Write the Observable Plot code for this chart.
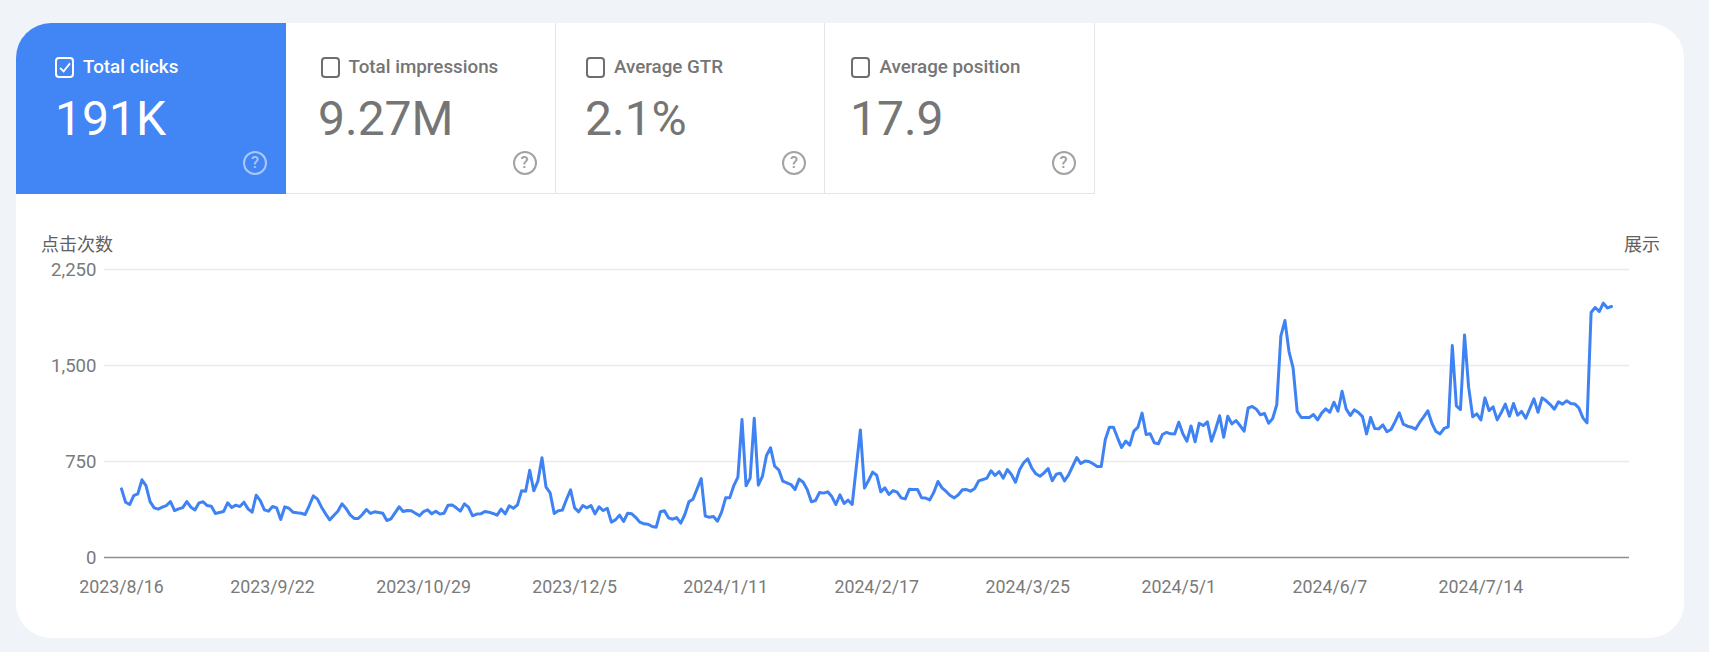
<!DOCTYPE html>
<html lang="zh">
<head>
<meta charset="utf-8">
<script src="https://cdn.jsdelivr.net/npm/d3@7"></script>
<script src="https://cdn.jsdelivr.net/npm/@observablehq/plot@0.6"></script>
<style>
html,body{margin:0;padding:0;width:1709px;height:652px;overflow:hidden;background:#f0f4f9;font-family:Roboto,sans-serif;}
#card{position:absolute;left:16px;top:23px;width:1668px;height:615px;background:#fff;border-radius:35px;overflow:hidden;}
.tile{position:absolute;top:0;height:171px;width:269.5px;box-sizing:border-box;border-right:1.2px solid #e4e5e8;border-bottom:1.2px solid #e4e5e8;color:#757575;}
.tile.on{background:#4285f4;color:#fff;border-color:#4285f4;width:270px;}
.box{position:absolute;top:34px;width:19px;height:21px;box-sizing:border-box;border:2px solid #6e6e6e;border-radius:4px;}
.on .box{border-color:#fff;}
.box svg{position:absolute;left:1.5px;top:2px;}
.lab{position:absolute;top:31px;font-size:18.8px;font-weight:500;line-height:26px;white-space:nowrap;}
.val{position:absolute;top:66px;font-size:48px;line-height:60px;white-space:nowrap;}
.help{position:absolute;top:128px;width:24px;height:24px;box-sizing:border-box;border:2px solid #a3a3a3;border-radius:50%;color:#9e9e9e;font-size:16.5px;font-weight:500;line-height:20px;text-align:center;}
.on .help{border-color:#a9c8fa;color:#a9c8fa;}
.axt{position:absolute;top:231px;font-family:"Noto Sans CJK SC",sans-serif;font-size:18px;line-height:24px;color:#616161;white-space:nowrap;}
#chart{position:absolute;left:0;top:200px;}
#chart svg{background:transparent;overflow:visible;}
</style>
</head>
<body>
<div id="card"></div>
<div class="axt" style="left:41px">点击次数</div>
<div class="axt" style="left:1624px">展示</div>
<div id="chart"></div>
<script>
const metricNames = ["Total clicks", "Total impressions", "Average GTR", "Average position"];
const metricValues = ["191K", "9.27M", "2.1%", "17.9"];
const startDate = "2023-08-16";
const clicks = [
536,432,414,484,497,607,562,437,388,378,393,406,437,367,380,390,437,393,372,427,
435,406,401,344,352,359,427,390,409,398,432,380,354,487,445,372,362,398,388,297,
396,385,354,349,346,336,406,482,456,393,341,294,328,362,419,383,333,305,305,336,
375,344,357,352,346,289,302,349,396,359,367,365,346,326,359,372,341,362,339,346,
409,411,388,362,419,393,326,339,341,359,354,344,331,378,341,404,385,411,521,518,
682,521,596,779,549,505,344,365,370,453,529,388,357,406,388,406,341,396,367,385,
276,294,331,281,346,341,312,276,263,260,242,237,357,365,310,299,312,268,336,435,
456,536,617,323,315,320,284,354,466,466,562,628,1078,560,620,1088,565,633,797,857,
713,685,596,583,570,531,612,588,529,435,445,508,503,513,476,414,490,422,448,414,
706,997,542,601,667,643,513,544,492,523,510,466,458,534,531,531,466,464,450,510,
594,544,516,484,466,490,529,531,518,539,599,609,620,677,641,672,620,687,648,588,
685,740,771,698,654,635,661,695,599,651,659,599,646,713,781,734,753,750,732,711,
711,922,1018,1018,935,859,909,878,987,1018,1128,961,966,896,888,961,977,966,964,1057,
966,909,1028,904,1049,1031,1060,909,1000,1107,940,1104,1044,1070,1031,987,1169,1180,1159,1115,
1125,1049,1086,1193,1729,1851,1609,1482,1141,1094,1094,1094,1117,1075,1128,1161,1135,1213,1143,1299,
1161,1109,1154,1133,1101,966,1094,1008,1005,1036,982,1000,1062,1130,1042,1026,1018,1003,1055,1099,
1146,1049,984,966,1008,1021,1656,1185,1156,1739,1331,1099,1122,1075,1247,1148,1177,1075,1133,1198,
1104,1203,1112,1141,1088,1164,1239,1135,1247,1224,1195,1159,1216,1198,1224,1203,1200,1169,1091,1052,
1914,1953,1922,1987,1950,1961
];
const yTicks = [0, 750, 1500, 2250];
const xTickLabels = ["2023/8/16","2023/9/22","2023/10/29","2023/12/5","2024/1/11","2024/2/17","2024/3/25","2024/5/1","2024/6/7","2024/7/14"];

const parse = s => { const [y,m,d] = s.split("/").map(Number); return new Date(Date.UTC(y, m-1, d)); };
const fmt = d => `${d.getUTCFullYear()}/${d.getUTCMonth()+1}/${d.getUTCDate()}`;
const t0 = new Date(startDate + "T00:00:00Z");
const table = clicks.map((v,i) => ({date: d3.utcDay.offset(t0, i), clicks: v}));

// metric tiles
const lefts = [0, 270, 539.5, 809];
const boxX = [39, 305, 570, 835];
const labX = [67, 332.5, 598, 863.5];
const valX = [39, 302, 569, 834];
const helpX = [227, 496.5, 766, 1035.5];
const card = document.getElementById("card");
metricNames.forEach((name,i) => {
  const t = document.createElement("div");
  t.className = "tile" + (i===0 ? " on" : "");
  t.style.left = lefts[i] + "px";
  const L = lefts[i];
  const check = i===0 ? '<svg width="12" height="13" viewBox="0 0 12 13"><path d="M1 6.8L4.6 10.4L11 2.4" fill="none" stroke="#fff" stroke-width="1.8"/></svg>' : "";
  t.innerHTML = `<div class="box" style="left:${boxX[i]-L}px">${check}</div>`+
    `<div class="lab" style="left:${labX[i]-L}px">${name}</div>`+
    `<div class="val" style="left:${valX[i]-L}px">${metricValues[i]}</div>`+
    `<div class="help" style="left:${helpX[i]-L}px">?</div>`;
  card.appendChild(t);
});

const plot = Plot.plot({
  width: 1709, height: 440,
  marginLeft: 104, marginRight: 80, marginTop: 69, marginBottom: 83,
  style: {background:"transparent", fontFamily:"Roboto, sans-serif", fontSize:"17.8px"},
  x: {type:"utc", domain:[table[0].date, table[table.length-1].date], insetLeft:17, insetRight:18, label:null},
  y: {domain:[0,2250], label:null},
  marks: [
    Plot.ruleY(yTicks.filter(d=>d>0), {stroke:"#e9eaec", strokeWidth:1.6}),
    Plot.ruleY([0], {stroke:"#8f8f8f", strokeWidth:1.6}),
    Plot.axisY({ticks:yTicks, tickSize:0, tickPadding:8, dy:1, tickFormat:d3.format(","), color:"#7a7a7a", label:null, fontSize:18.6}),
    Plot.axisX({ticks:xTickLabels.map(parse), tickSize:0, tickPadding:23, tickFormat:fmt, color:"#7a7a7a", label:null}),
    Plot.line(table, {x:"date", y:"clicks", stroke:"#3f82f3", strokeWidth:3, curve:"linear"})
  ]
});
document.getElementById("chart").appendChild(plot);
</script>
</body>
</html>
